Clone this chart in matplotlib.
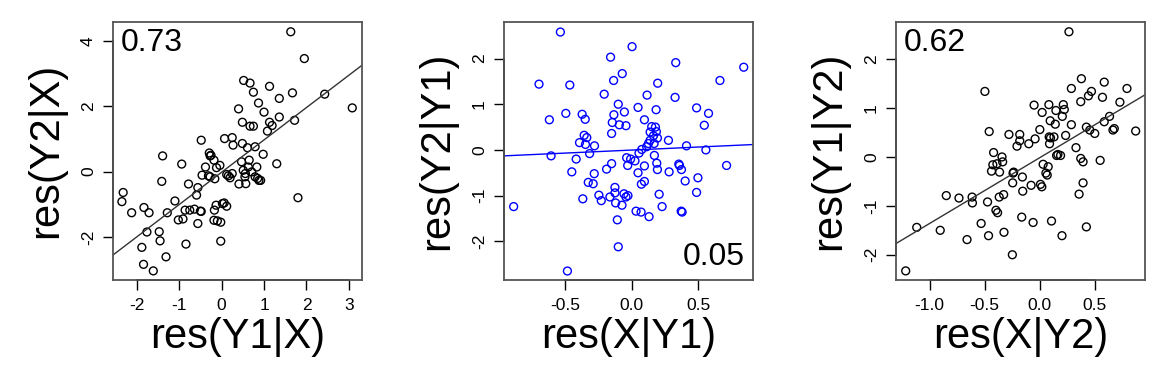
import numpy as np
import matplotlib
matplotlib.use("Agg")
import matplotlib.pyplot as plt

plt.rcParams['font.family'] = ['Liberation Sans', 'DejaVu Sans']

# panel 1: res(Y1|X) vs res(Y2|X)
x1 = [1.63, 1.95, 2.43, 3.08, 1.67, 1.72, 1.80, 1.30, 1.36, 1.13, 1.36, 1.13, 1.19, 1.08,
      1.00, 0.87, 0.75, 0.67, 0.52, 0.40, 0.49, 0.67, 0.75, 0.98, 0.79, 0.49, 0.61, 0.25,
      0.07, 0.27, -0.48, -0.29, -0.27, -0.18, -1.39, -0.94, -1.41, -2.32, -2.35, -2.12,
      -1.83, -1.71, -1.76, -1.47, -1.45, -1.88, -1.84, -1.61, -1.31, -1.28, -1.10, -1.02,
      -0.91, -0.84, -0.86, -0.78, -0.75, -0.64, -0.59, -0.56, -0.56, -0.50, -0.48, -0.46,
      -0.38, -0.31, -0.27, -0.16, -0.25, -0.12, -0.04, -0.17, -0.13, -0.18, -0.10, -0.02,
      -0.02, 0.02, 0.06, 0.12, 0.12, 0.16, 0.20, 0.25, 0.41, 0.47, 0.51, 0.55, 0.57, 0.63,
      0.65, 0.71, 0.79, 0.83, 0.85, 0.88, 0.92, 0.56]
y1 = [4.28, 3.46, 2.37, 1.95, 2.41, 1.57, -0.80, 0.24, 2.24, 2.61, 1.67, 1.51, 1.41, 1.24,
      1.82, 2.10, 2.43, 2.71, 2.79, 1.92, 1.51, 1.39, 1.39, 0.53, 0.76, 0.86, 0.73, 1.04,
      1.01, 0.81, 0.96, 0.57, 0.48, 0.35, 0.48, 0.23, -0.30, -0.64, -0.92, -1.26,
      -1.10, -1.26, -1.85, -1.84, -2.12, -2.32, -2.84, -3.04, -2.61, -1.26, -0.90, -1.48,
      -1.45, -2.22, -1.18, -0.38, -1.18, -1.15, -0.72, -0.49, -1.59, -1.21, -1.22, -0.11,
      0.14, -0.13, -0.16, -0.22, 0.50, 0.12, 0.19, -1.18, -1.03, -1.49, -1.51, -1.55,
      -2.13, -0.98, -0.96, -1.06, -0.09, -0.13, -0.19, -0.06, -0.38, 0.30, 0.04, -0.16, -0.37, 0.14,
      0.35, -0.01, -0.16, 0.14, -0.21, -0.27, -0.27, -0.06]

# panel 2: res(X|Y1) vs res(Y2|Y1)
x2 = [-0.537, 0.003, -0.159, 0.332, 0.844, -0.698, -0.466, -0.136, -0.071, 0.196, 0.665,
      -0.207, 0.116, 0.327, -0.101, 0.048, 0.184, 0.489, 0.579, -0.620, -0.496, -0.373,
      -0.350, -0.134, -0.055, -0.146, -0.093, -0.043, 0.096, 0.151, 0.179, 0.547, -0.151,
      -0.358, -0.338, -0.393, -0.348, -0.280, 0.139, 0.186, 0.164, 0.194, 0.139, 0.126,
      0.169, 0.113, 0.277, 0.413, 0.559, 0.076, 0.055, -0.607, -0.317, -0.418, -0.451,
      -0.889, -0.151, -0.189, -0.038, -0.008, 0.025, -0.030, 0.048, 0.096, 0.171, 0.189,
      0.194, 0.282, 0.355, 0.360, 0.375, 0.403, 0.499, 0.715, 0.489, -0.282, -0.327, -0.290,
      0.073, 0.096, -0.368, -0.247, -0.229, -0.164, -0.126, -0.126, -0.121, -0.073, -0.058,
      -0.043, -0.028, 0.207, 0.229, 0.033, 0.071, 0.131, 0.373, 0.380, -0.108, -0.101, -0.484]
y2 = [2.58, 2.26, 2.03, 1.91, 1.81, 1.44, 1.42, 1.52, 1.67, 1.46, 1.52,
      1.22, 1.20, 1.15, 1.00, 0.93, 0.88, 0.92, 0.80, 0.66, 0.80, 0.78,
      0.67, 0.77, 0.83, 0.60, 0.55, 0.53, 0.66, 0.51, 0.50, 0.54, 0.36,
      0.32, 0.27, 0.16, 0.12, 0.09, 0.39, 0.40, 0.31, 0.26, 0.21, 0.14,
      0.14, 0.07, 0.21, 0.09, 0.00, 0.01, -0.07, -0.13, -0.08, -0.20, -0.48,
      -1.24, -0.30, -0.42, -0.17, -0.20, -0.24, -0.34, -0.50, -0.35, -0.12, -0.29,
      -0.43, -0.48, -0.31, -0.34, -0.43, -0.68, -0.61, -0.34, -0.93, -0.52, -0.71, -0.74,
      -0.75, -0.69, -1.07, -0.99, -1.11, -1.03, -0.82, -0.94, -1.16, -1.21, -0.96,
      -1.03, -1.00, -0.97, -1.24, -1.34, -1.36, -1.46, -1.34, -1.36, -1.53, -2.12, -2.65]

# panel 3: res(X|Y2) vs res(Y1|Y2)
x3 = [0.264, -1.216, -1.116, -0.903, -0.848, -0.733, -0.614, -0.611, -0.660, -0.532, -0.465,
      -0.474, -0.498, -0.459, -0.419, -0.438, -0.426, -0.389, -0.365, -0.343, -0.337, -0.398,
      -0.383, -0.368, -0.328, -0.325, -0.280, -0.249, -0.246, -0.243, -0.237, -0.207, -0.182,
      -0.182, -0.164, -0.158, -0.155, -0.100, -0.079, -0.061, -0.052, -0.043, 0.000, 0.006,
      0.018, 0.021, 0.030, 0.055, 0.067, 0.076, 0.082, 0.085, 0.094, 0.088, 0.097, 0.106,
      0.128, 0.140, 0.146, 0.152, 0.164, 0.188, 0.201, 0.204, 0.213, 0.222, 0.234, 0.286,
      0.286, 0.328, 0.356, 0.371, 0.377, 0.392, 0.392, 0.371, 0.422, 0.422, 0.441, 0.468,
      0.453, 0.498, 0.547, 0.568, 0.584, 0.584, 0.632, 0.663, 0.675, 0.726, 0.790, 0.869]
y3 = [2.56, -2.33, -1.44, -1.50, -0.79, -0.84, -0.82, -0.94, -1.69, -1.36, -1.61,
      -0.92, 1.34, 0.52, 0.09, -0.29, -0.16, -0.14, -0.31, 0.00, -0.10, -1.09,
      -1.14, -0.82, -0.77, -1.54, 0.46, -2.00, -0.53, -0.33, -0.31, 0.22, 0.46,
      0.33, -1.23, -0.41, -0.70, 0.27, -0.58, -1.34, 1.06, 0.37, 0.56, -0.56,
      -0.61, 0.91, -0.15, -0.33, -0.37, -0.20, 1.07, 0.41, 0.74, 0.27, 0.39, -1.31,
      0.41, 0.67, 0.95, 0.03, 0.05, 0.03, -1.61, 0.83, 1.07, 0.97, 0.44, 1.40,
      0.66, 0.19, -0.76, -0.03, 1.60, -0.53, -0.10, 1.13, -1.43, 0.61, 1.25, 1.34,
      0.55, 0.48, -0.07, 1.22, 1.53, 0.72, 0.83, 0.55, 0.58, 1.12, 1.40, 0.53]

# fitted lines (intercept, slope) and partial correlations
fits = [(-0.02, 0.99), (-0.003, 0.132), (-0.014, 1.347)]
corr_labels = ["0.73", "0.05", "0.62"]
xlabels = ["res(Y1|X)", "res(X|Y1)", "res(X|Y2)"]
ylabels = ["res(Y2|X)", "res(Y2|Y1)", "res(Y1|Y2)"]
xticks = [[-2, -1, 0, 1, 2, 3], [-0.5, 0.0, 0.5], [-1.0, -0.5, 0.0, 0.5]]
xticklabels = [["-2", "-1", "0", "1", "2", "3"], ["-0.5", "0.0", "0.5"],
               ["-1.0", "-0.5", "0.0", "0.5"]]
yticks = [[-2, 0, 2, 4], [-2, -1, 0, 1, 2], [-2, -1, 0, 1, 2]]
xlims = [(-2.56, 3.31), (-0.962, 0.914), (-1.304, 0.954)]
ylims = [(-3.31, 4.58), (-2.84, 2.80), (-2.51, 2.76)]
colors = ["black", "#0000ff", "black"]
line_colors = ["#333333", "#0000ff", "#333333"]
lefts = [0.0964, 0.4300, 0.7645]

fig = plt.figure(figsize=(11.72, 3.79), dpi=100)
data = [(x1, y1), (x2, y2), (x3, y3)]

for i, (xs, ys) in enumerate(data):
    ax = fig.add_axes([lefts[i], 0.262, 0.2125, 0.680])
    ax.scatter(xs, ys, s=32, facecolors='none', edgecolors=colors[i], linewidths=1.0)
    a, b = fits[i]
    lx = np.array(xlims[i])
    ax.plot(lx, a + b * lx, color=line_colors[i], lw=1.0)
    ax.set_xlim(*xlims[i])
    ax.set_ylim(*ylims[i])

    ax.set_xticks(xticks[i])
    ax.set_xticklabels(xticklabels[i])
    ax.set_yticks(yticks[i])
    ax.set_yticklabels([str(t) for t in yticks[i]], rotation=90, va='center')
    ax.tick_params(direction='out', length=7.2, width=1.0, labelsize=12.5, color='black')
    ax.tick_params(axis='x', pad=6)
    ax.tick_params(axis='y', pad=5)
    for sp in ax.spines.values():
        sp.set_color('#555555')
        sp.set_linewidth(1.3)

    # R style axis lines across the tick range
    ax.plot([xticks[i][0], xticks[i][-1]], [0, 0], color='black', lw=1.2,
            transform=ax.get_xaxis_transform(), clip_on=False)
    ax.plot([0, 0], [yticks[i][0], yticks[i][-1]], color='black', lw=1.2,
            transform=ax.get_yaxis_transform(), clip_on=False)

    ax.set_xlabel(xlabels[i], fontsize=30, labelpad=3)
    ax.set_ylabel(ylabels[i], fontsize=30, labelpad=11)

    if i == 1:
        ax.text(0.965, 0.03, corr_labels[i], transform=ax.transAxes, fontsize=23,
                ha='right', va='bottom')
    else:
        ax.text(0.033, 0.975, corr_labels[i], transform=ax.transAxes, fontsize=23,
                ha='left', va='top')

fig.savefig("out.png", dpi=100)
